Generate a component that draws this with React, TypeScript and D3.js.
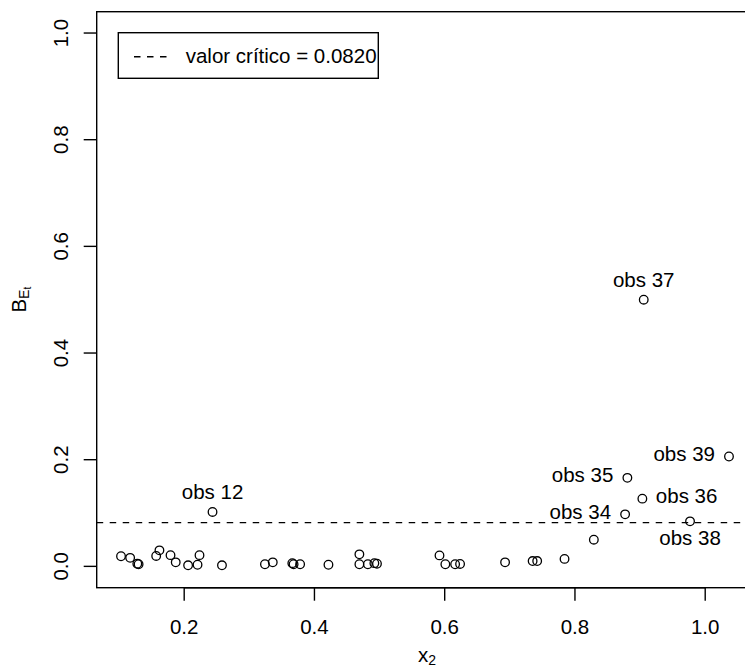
import React from "react";
import * as d3 from "d3";

const obsX = [0.103, 0.117, 0.128, 0.130, 0.157, 0.162, 0.179, 0.187, 0.206, 0.2205, 0.2235, 0.2435, 0.258, 0.324, 0.336, 0.366, 0.368, 0.378, 0.4215, 0.469, 0.469, 0.482, 0.492, 0.496, 0.592, 0.601, 0.616, 0.6236, 0.6927, 0.735, 0.742, 0.784, 0.829, 0.877, 0.8805, 0.9035, 0.9056, 0.9767, 1.0365];
const obsY = [0.019, 0.016, 0.005, 0.004, 0.0195, 0.030, 0.021, 0.0075, 0.002, 0.003, 0.021, 0.102, 0.002, 0.004, 0.0075, 0.006, 0.004, 0.004, 0.003, 0.0225, 0.004, 0.004, 0.006, 0.005, 0.0206, 0.004, 0.004, 0.0045, 0.0075, 0.010, 0.010, 0.014, 0.050, 0.0975, 0.166, 0.127, 0.500, 0.0844, 0.206];
const labelIdx = [12, 34, 35, 36, 37, 38, 39];
const labelPos = ["top", "left", "left", "right", "top", "bottom", "left"];
const xTicks = [0.2, 0.4, 0.6, 0.8, 1.0];
const yTicks = [0.0, 0.2, 0.4, 0.6, 0.8, 1.0];
const critical = 0.082;
const legendText = "valor crítico = 0.0820";

const W = 745, H = 667;
const FONT = "'Liberation Sans', Arial, Helvetica, sans-serif";
const FS = 20.5;

export default function App() {
  const xmin = d3.min(obsX)!, xmax = d3.max(obsX)!;
  const xr = xmax - xmin;
  const x = d3.scaleLinear().domain([xmin - 0.04 * xr, xmax + 0.04 * xr]).range([96.7, 753.3]);
  const y = d3.scaleLinear().domain([-0.04, 1.04]).range([587.7, 11.7]);
  const [x0, x1] = x.range();
  const [y0, y1] = y.range();
  const sw = 1.4;

  return (
    <svg width={W} height={H} style={{ position: "absolute", left: 0, top: 0, background: "#fff" }} fontFamily={FONT}>
      <rect x={0} y={0} width={W} height={H} fill="#fff" />
      {/* frame */}
      <rect x={x0} y={y1} width={x1 - x0} height={y0 - y1} fill="none" stroke="#000" strokeWidth={sw} />
      {/* x axis */}
      <line x1={x(xTicks[0])} x2={x(xTicks[xTicks.length - 1])} y1={y0} y2={y0} stroke="#000" strokeWidth={sw} />
      {xTicks.map((t) => (
        <g key={"xt" + t}>
          <line x1={x(t)} x2={x(t)} y1={y0} y2={y0 + 13} stroke="#000" strokeWidth={sw} />
          <text x={x(t)} y={634} textAnchor="middle" fontSize={FS}>{t.toFixed(1)}</text>
        </g>
      ))}
      {/* y axis */}
      {yTicks.map((t) => (
        <g key={"yt" + t}>
          <line x1={x0} x2={x0 - 13} y1={y(t)} y2={y(t)} stroke="#000" strokeWidth={sw} />
          <text transform={`translate(68,${y(t)}) rotate(-90)`} textAnchor="middle" fontSize={FS}>{t.toFixed(1)}</text>
        </g>
      ))}
      {/* axis titles */}
      <text x={(x0 + x1) / 2 + 2} y={662} textAnchor="middle" fontSize={FS}>
        x<tspan fontSize={14} dy={3}>2</tspan>
      </text>
      <text transform={`translate(25.5,${(y0 + y1) / 2}) rotate(-90)`} textAnchor="middle" fontSize={FS}>
        B<tspan fontSize={14} dy={3}>E</tspan><tspan fontSize={10} dy={2}>t</tspan>
      </text>
      {/* critical line */}
      <line x1={x0} x2={x1} y1={y(critical)} y2={y(critical)} stroke="#000" strokeWidth={sw} strokeDasharray="6.5,6.5" />
      {/* points */}
      {obsX.map((v, i) => (
        <circle key={"p" + i} cx={x(v)} cy={y(obsY[i])} r={4.3} fill="none" stroke="#000" strokeWidth={1.3} />
      ))}
      {/* labels */}
      {labelIdx.map((n, k) => {
        const px = x(obsX[n - 1]);
        const py = y(obsY[n - 1]);
        const pos = labelPos[k];
        let tx = px, ty = py, anchor = "middle";
        if (pos === "top") { ty = py - 12.5; }
        else if (pos === "bottom") { ty = py + 24; }
        else if (pos === "left") { tx = px - 14; ty = py + 4.5; anchor = "end"; }
        else { tx = px + 13.5; ty = py + 4.8; anchor = "start"; }
        return <text key={"l" + n} x={tx} y={ty} textAnchor={anchor} fontSize={FS}>{"obs " + n}</text>;
      })}
      {/* legend */}
      <rect x={118.3} y={32.7} width={260} height={45.6} fill="#fff" stroke="#000" strokeWidth={sw} />
      <line x1={134} x2={170} y1={56.7} y2={56.7} stroke="#000" strokeWidth={sw} strokeDasharray="6.5,6.5" />
      <text x={185.7} y={63.3} fontSize={FS}>{legendText}</text>
    </svg>
  );
}
